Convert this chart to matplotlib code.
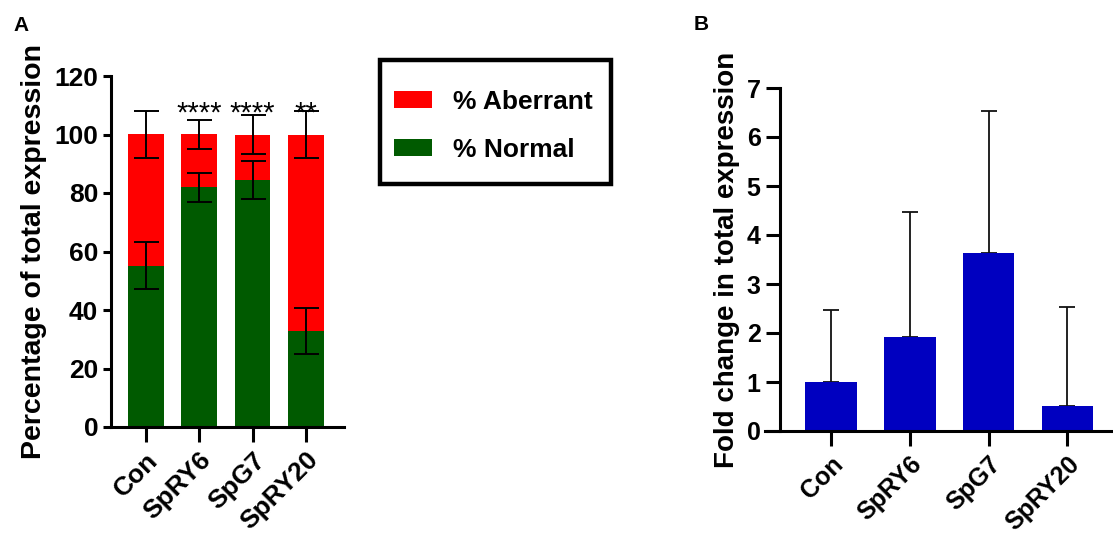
import numpy as np
import matplotlib
matplotlib.use('Agg')
import matplotlib.pyplot as plt
from matplotlib.patches import Patch, Rectangle

plt.rcParams['font.family'] = ['Liberation Sans', 'DejaVu Sans']
plt.rcParams['font.weight'] = 'bold'

groups = ['Con', 'SpRY6', 'SpG7', 'SpRY20']

# panel A: stacked percentages
normal_pct = [55.2, 81.9, 84.6, 32.9]
normal_sd = [7.9, 4.9, 6.5, 7.8]
aberrant_pct = [44.8, 18.1, 15.4, 67.1]
aberrant_sd = [8.0, 4.9, 6.6, 8.0]
stars = ['', '****', '****', '**']

# panel B: fold change, upper error only
fold_change = [1.0, 1.91, 3.64, 0.51]
fold_sd = [1.47, 2.56, 2.89, 2.02]

red = '#FF0000'
green = '#005A00'
blue = '#0000C0'

fig = plt.figure(figsize=(11.13, 5.34), dpi=100)
W, H = 1113.0, 534.0


def px_axes(x0, y0, x1, y1):
    # pixel box (top-left origin) -> figure fraction
    return fig.add_axes([x0 / W, 1 - y1 / H, (x1 - x0) / W, (y1 - y0) / H])


def style(ax, ytick_len, xtick_len, ysize, xsize):
    for s in ['top', 'right']:
        ax.spines[s].set_visible(False)
    for s in ['left', 'bottom']:
        ax.spines[s].set_linewidth(2.2)
    ax.tick_params(axis='y', length=ytick_len, width=2.2, labelsize=ysize, pad=3)
    ax.tick_params(axis='x', length=xtick_len, width=2.2, labelsize=xsize, pad=4)


# ---- panel A
axA = px_axes(110.7, 76, 344, 427)
x = np.arange(len(groups))
bw = 0.67
axA.bar(x, normal_pct, bw, color=green, zorder=2)
axA.bar(x, aberrant_pct, bw, bottom=normal_pct, color=red, zorder=2)
axA.errorbar(x, normal_pct, yerr=normal_sd, fmt='none', ecolor='black',
             elinewidth=1.4, capsize=9, capthick=1.4, zorder=3)
tops = np.array(normal_pct) + np.array(aberrant_pct)
axA.errorbar(x, tops, yerr=aberrant_sd, fmt='none', ecolor='black',
             elinewidth=1.4, capsize=9, capthick=1.4, zorder=3)
for i in range(len(groups)):
    if stars[i]:
        axA.text(x[i], 104.5, stars[i], ha='center', va='baseline',
                 fontsize=21, fontweight='normal')
axA.set_ylim(0, 120)
axA.set_xlim(-0.655, 3.711)
axA.set_yticks(np.arange(0, 121, 20))
axA.set_xticks(x)
axA.set_xticklabels(groups, rotation=45, ha='right', rotation_mode='anchor')
style(axA, 6, 11, 19, 19)
axA.set_ylabel('Percentage of total expression', fontsize=20.5, fontweight='bold', labelpad=5)

# legend with a heavy square frame
handles = [Patch(facecolor=red, edgecolor='none', label='% Aberrant'),
           Patch(facecolor=green, edgecolor='none', label='% Normal')]
leg = fig.legend(handles=handles, loc='upper left',
                 bbox_to_anchor=(366 / W, 1 - 62 / H), frameon=False,
                 fontsize=19, handlelength=1.45, handleheight=0.58,
                 handletextpad=0.8, labelspacing=0.9, borderpad=0.56)
fig.patches.append(Rectangle((379.5 / W, 1 - 183.5 / H), 231 / W, 124 / H,
                             transform=fig.transFigure, fill=False,
                             edgecolor='black', linewidth=3.2))

# ---- panel B
axB = px_axes(765, 88, 1113, 431)
bwB = 0.656
axB.bar(x, fold_change, bwB, color=blue, zorder=2)
axB.errorbar(x, fold_change, yerr=[np.zeros(len(x)), fold_sd], fmt='none',
             ecolor='#111111', elinewidth=1.3, capsize=6, capthick=1.3, zorder=1)
axB.set_ylim(0, 7)
axB.set_xlim(-0.838, 3.579)
axB.spines['left'].set_position(('data', -0.647))
axB.set_yticks(np.arange(0, 8, 1))
axB.set_xticks(x)
axB.set_xticklabels(groups, rotation=45, ha='right', rotation_mode='anchor')
style(axB, 10, 11, 18, 18)
axB.tick_params(axis='y', pad=4)
axB.set_ylabel('Fold change in total expression', fontsize=20, fontweight='bold', labelpad=5)

fig.text(13 / W, 1 - 31 / H, 'A', fontsize=15, fontweight='bold')
fig.text(694 / W, 1 - 30 / H, 'B', fontsize=15, fontweight='bold')

fig.savefig('out.png', dpi=100)
